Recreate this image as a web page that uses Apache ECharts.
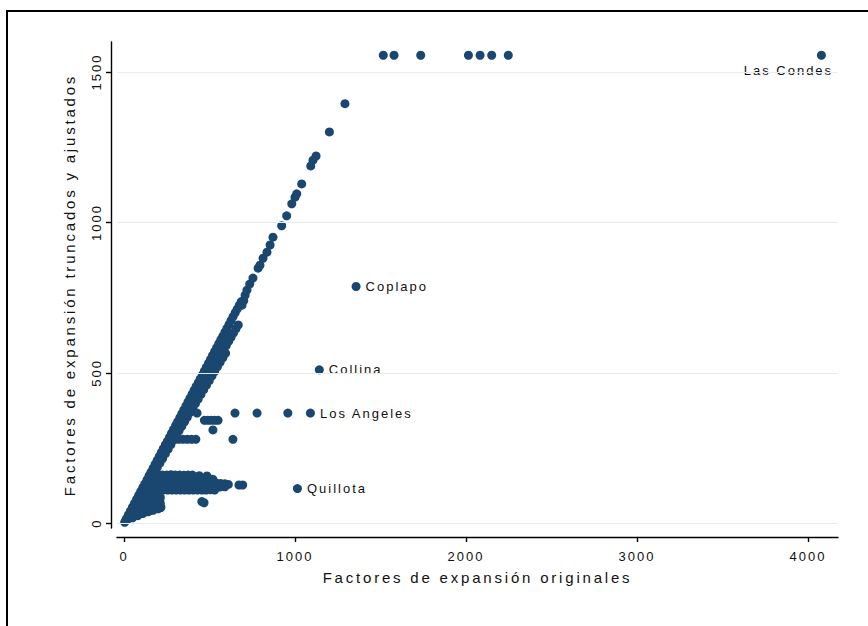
<!DOCTYPE html>
<html>
<head>
<meta charset="utf-8">
<script src="https://cdn.jsdelivr.net/npm/echarts@6/dist/echarts.min.js"></script>
<style>
  html, body { margin: 0; padding: 0; background: #fff; }
  #chart { width: 868px; height: 626px; }
  #chart text { letter-spacing: 2px; }
  #chart text[style*="15px"] { letter-spacing: 2.8px; }
</style>
</head>
<body>
<div id="chart"></div>
<script>
// Axis ticks
const ticksX = [0, 1000, 2000, 3000, 4000];
const ticksY = [0, 500, 1000, 1500];

// Main band along the diagonal (original vs. truncated/adjusted)
const bandaSuperior = [
  [4,3],[14,15],[26,28],[38,41],[50,54],[62,67],[74,80],[86,93],[98,106],[110,119],
  [122,131],[134,144],[146,157],[158,170],[170,183],[182,196],[194,209],[206,222],[218,235],[230,248],
  [242,261],[254,273],[266,286],[278,299],[290,312],[302,325],[314,338],[326,351],[338,364],[350,377],
  [362,390],[374,403],[386,416],[398,429],[410,442],[422,455],[434,467],[446,480],[458,493],[470,506],
  [482,519],[494,532],[506,545],[518,558],[530,571],[542,584],[554,597],[566,610],[578,622],[590,635],
  [602,648],[614,661],[626,674],[638,687],[650,700],[662,712],[674,725],[686,737]
];
const bandaMedia = [
  [10,9],[24,23],[38,37],[52,51],[66,65],[80,79],[94,93],[108,107],[122,121],[136,135],
  [150,149],[164,163],[178,176],[192,190],[206,204],[220,218],[234,232],[248,246],[262,259],[276,273],
  [290,287],[304,301],[318,315],[332,329],[346,342],[360,356],[374,370],[388,384],[402,398],[416,412],
  [430,425],[444,439],[458,453],[472,467],[486,481],[500,495],[514,508],[528,522],[542,536],[556,550],
  [570,563],[584,577],[598,591],[612,605],[626,618],[640,632],[654,646],[668,659]
];
const bandaInferior = [
  [18,14],[34,30],[50,46],[66,61],[82,77],[98,92],[114,108],[130,123],[146,139],[162,154],
  [178,170],[194,185],[210,200],[226,215],[242,231],[258,246],[274,261],[290,276],[306,292],[322,307],
  [338,322],[354,337],[370,352],[386,368],[402,383],[418,398],[434,413],[450,428],[466,444],[482,459],
  [498,474],[514,489],[530,504],[546,520],[562,535],[578,550],[594,565]
];

// Low-value wedge near the origin
const cuna = [
  [20,12],[50,18],[80,25],[110,32],[140,38],[170,43],[200,48],[215,52],
  [40,25],[60,25],[80,26],
  [50,40],[70,40],[90,40],[110,40],[130,40],[150,41],
  [60,52],[80,52],[100,52],[120,52],[140,52],[160,52],[180,52],[200,52],[215,53],
  [75,65],[95,65],[115,65],[135,65],[155,65],[175,65],[195,65],[212,66],
  [90,78],[110,78],[130,78],[150,78],[170,78],[190,78],[210,80],[212,86],
  [100,92],[120,92],[140,92],[160,92],[180,92],[195,90],
  [110,104],[130,104],[150,104],[165,104],
  [455,72],[468,68]
];

// Horizontal strip of truncated factors (~110-160)
const franja = [
  [150,160],[175,160],[200,161],[225,160],[250,160],[275,161],[300,160],[325,160],[350,159],[375,160],[400,160],[440,158],[485,157],
  [145,147],[170,147],[195,147],[220,147],[245,147],[270,147],[295,147],[320,147],[345,147],[370,148],[395,147],[420,147],[445,147],[470,148],[495,147],[520,146],
  [140,133],[165,133],[190,133],[215,133],[240,133],[265,133],[290,133],[315,133],[340,133],[365,133],[390,133],[415,133],[440,133],[465,133],[490,134],[515,133],[540,133],[565,132],[590,131],[610,129],
  [672,127],[694,127],
  [135,120],[160,120],[185,120],[210,120],[235,120],[260,120],[285,120],[310,120],[335,120],[360,120],[385,120],[410,120],[435,120],[460,120],[485,121],[510,120],[535,120],[560,120],[590,121],
  [130,110],[155,110],[180,110],[205,110],[230,110],[255,110],[280,110],[305,110],[330,110],[355,110],[380,110],[405,110],[430,110],[455,110],[480,110],[505,111],[530,110]
];

// Shorter strips at ~280, ~340 and ~366
const franjasMedias = [
  [320,279],[345,279],[370,279],[395,279],[420,279],[637,279],
  [470,342],[490,342],[510,342],[530,342],[550,342],[520,310],
  [427,366],[649,366],[778,366],[958,366]
];

// Sparse upper part of the diagonal
const diagonalAlta = [
  [690,725],[700,740],[708,758],[719,775],[735,795],[754,815],[784,848],[795,858],[813,881],[836,901],
  [854,925],[871,951],[922,989],[951,1022],[981,1062],[1000,1084],[1010,1095],[1039,1128],[1092,1188],
  [1105,1207],[1123,1221],[1201,1301],[1292,1395]
];

// Upper cap at 1556
const techoX = [1516, 1579, 1735, 2014, 2082, 2150, 2247];
const techoY = [1556, 1556, 1556, 1556, 1556, 1556, 1556];

// Labelled communes
const comunas = ['Las Condes', 'Coplapo', 'Collina', 'Los Angeles', 'Quillota'];
const comunaX = [4078, 1357, 1142, 1090, 1014];
const comunaY = [1556, 787, 510, 366, 115];

const azul = '#1a476f';
const fuente = '"Liberation Sans", Arial, sans-serif';

const techo = techoX.map((x, i) => [x, techoY[i]]);
const puntos = [].concat(bandaSuperior, bandaMedia, bandaInferior, cuna, franja,
                         franjasMedias, diagonalAlta, techo);

const etiquetados = comunas.map((nombre, i) => {
  const item = { name: nombre, value: [comunaX[i], comunaY[i]] };
  if (nombre === 'Las Condes') {
    item.label = { position: 'bottom', distance: 4, offset: [-33, 0] };
  }
  return item;
});

const sinSeparador = v => String(v);

const chart = echarts.init(document.getElementById('chart'), null, { renderer: 'svg' });

chart.setOption({
  animation: false,
  backgroundColor: '#ffffff',
  grid: { left: 117, right: 30, top: 42, bottom: 98, containLabel: false },
  graphic: [{
    type: 'rect',
    shape: { x: 7, y: 11, width: 1200, height: 1000 },
    style: { fill: 'none', stroke: '#000', lineWidth: 2 },
    silent: true
  }],
  xAxis: {
    type: 'value',
    min: -41,
    max: 4175,
    offset: 9,
    name: 'Factores de expansión originales',
    nameLocation: 'middle',
    nameGap: 33,
    nameTextStyle: { fontFamily: fuente, fontSize: 15, color: '#111' },
    axisLine: { show: true, onZero: false, lineStyle: { color: '#000', width: 1.4 } },
    axisTick: { show: true, length: 5, customValues: ticksX, lineStyle: { color: '#000', width: 1.4 } },
    axisLabel: { customValues: ticksX, formatter: sinSeparador, margin: 13, fontFamily: fuente, fontSize: 13, color: '#111' },
    splitLine: { show: false }
  },
  yAxis: {
    type: 'value',
    min: -16,
    max: 1600,
    offset: 6,
    name: 'Factores de expansión truncados y ajustados',
    nameLocation: 'middle',
    nameGap: 34,
    nameRotate: 90,
    nameTextStyle: { fontFamily: fuente, fontSize: 15, color: '#111' },
    axisLine: { show: true, onZero: false, lineStyle: { color: '#000', width: 1.4 } },
    axisTick: { show: true, length: 5, customValues: ticksY, lineStyle: { color: '#000', width: 1.4 } },
    axisLabel: { customValues: ticksY, formatter: sinSeparador, rotate: 90, margin: 8, fontFamily: fuente, fontSize: 13, color: '#111' },
    splitLine: { show: false }
  },
  series: [
    {
      // horizontal grid lines at the y ticks
      type: 'scatter',
      data: [],
      z: 1,
      markLine: {
        silent: true,
        symbol: ['none', 'none'],
        label: { show: false },
        lineStyle: { color: '#e4eef0', type: 'solid', width: 1.2 },
        data: ticksY.map(v => ({ yAxis: v }))
      }
    },
    {
      type: 'scatter',
      data: puntos,
      symbol: 'circle',
      symbolSize: 9,
      z: 3,
      clip: false,
      itemStyle: { color: azul, opacity: 1 }
    },
    {
      type: 'scatter',
      data: etiquetados,
      symbol: 'circle',
      symbolSize: 9,
      z: 4,
      clip: false,
      itemStyle: { color: azul, opacity: 1 },
      label: {
        show: true,
        position: 'right',
        distance: 5,
        formatter: '{b}',
        fontFamily: fuente,
        fontSize: 13,
        color: '#111'
      }
    }
  ]
});
</script>
</body>
</html>
